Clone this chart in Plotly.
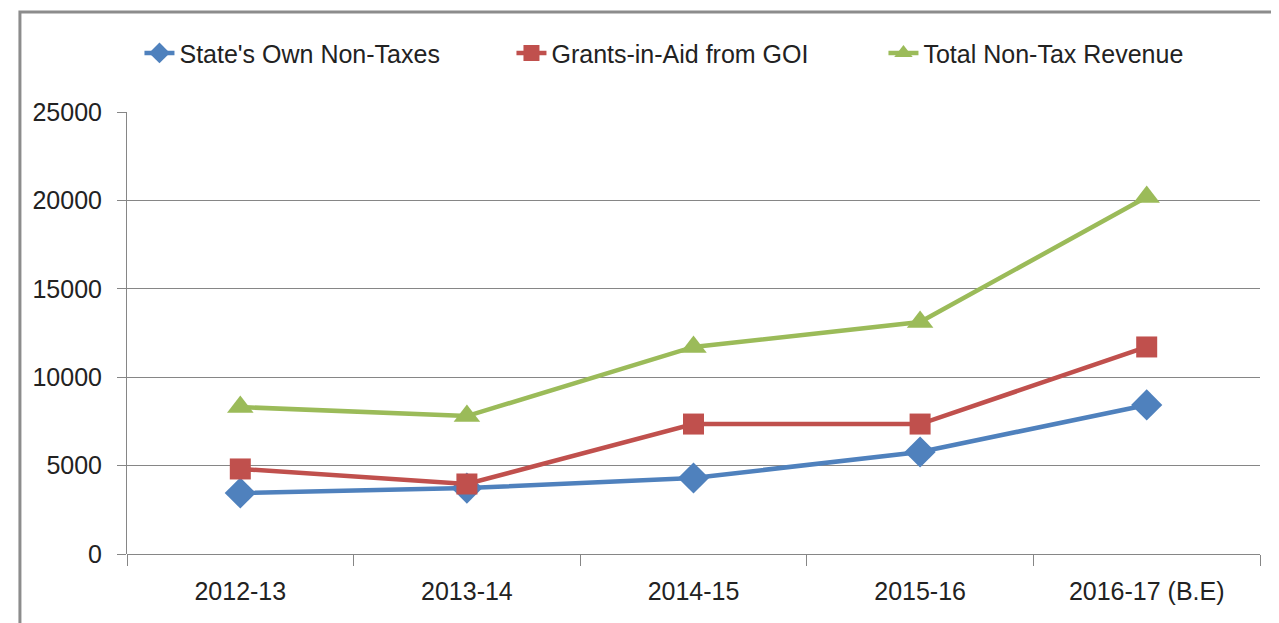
import plotly.graph_objects as go

categories = ["2012-13", "2013-14", "2014-15", "2015-16", "2016-17 (B.E)"]
state_own = [3450, 3730, 4300, 5770, 8430]
grants = [4810, 3960, 7350, 7350, 11710]
total = [8310, 7800, 11710, 13120, 20190]
y_ticks = [0, 5000, 10000, 15000, 20000, 25000]
y_tick_text = ["0", "5000", "10000", "15000", "20000", "25000"]

FONT = "Liberation Sans, Arial, sans-serif"

fig = go.Figure()
fig.add_trace(go.Scatter(x=categories, y=state_own, name="State's Own Non-Taxes",
                         mode="lines+markers",
                         line=dict(color="#4F81BD", width=4.5),
                         marker=dict(symbol="diamond", size=24, color="#4F81BD")))
fig.add_trace(go.Scatter(x=categories, y=grants, name="Grants-in-Aid from GOI",
                         mode="lines+markers",
                         line=dict(color="#C0504D", width=4.5),
                         marker=dict(symbol="square", size=21, color="#C0504D")))
fig.add_trace(go.Scatter(x=categories, y=total, name="Total Non-Tax Revenue",
                         mode="lines+markers",
                         line=dict(color="#9BBB59", width=4.5),
                         marker=dict(symbol="triangle-up", size=23, color="#9BBB59")))

fig.update_layout(
    width=1279, height=623,
    margin=dict(l=119, r=27, t=104, b=77, autoexpand=False),
    paper_bgcolor="white", plot_bgcolor="white",
    font=dict(family=FONT, size=24, color="#222222"),
    showlegend=True,
    legend=dict(orientation="h", x=0.011, xanchor="left", y=1.133, yanchor="middle",
                entrywidth=327, entrywidthmode="pixels",
                font=dict(family=FONT, size=25, color="#222222"),
                bgcolor="rgba(0,0,0,0)"),
    xaxis=dict(type="category", tickson="boundaries", ticks="outside", ticklen=11,
               tickcolor="#868686", showline=False, showgrid=False, automargin=False,
               ticklabelstandoff=20,
               tickfont=dict(family=FONT, size=25, color="#222222"),
               range=[-0.5, 4.5]),
    yaxis=dict(range=[0, 25000], tickvals=y_ticks, ticktext=y_tick_text,
               showgrid=True, gridcolor="#868686", automargin=False,
               gridwidth=1, showline=True, linecolor="#868686", linewidth=1,
               ticks="outside", ticklen=9, tickcolor="#868686", zeroline=True,
               zerolinecolor="#868686", zerolinewidth=1, ticklabelstandoff=10,
               tickfont=dict(family=FONT, size=25, color="#222222")),
)

fig.add_shape(type="rect", xref="paper", yref="paper",
              x0=-0.0945, x1=1.1, y0=-0.3, y1=1.226,
              line=dict(color="#8C8C8C", width=3), layer="below")

fig.write_html("out.html")
